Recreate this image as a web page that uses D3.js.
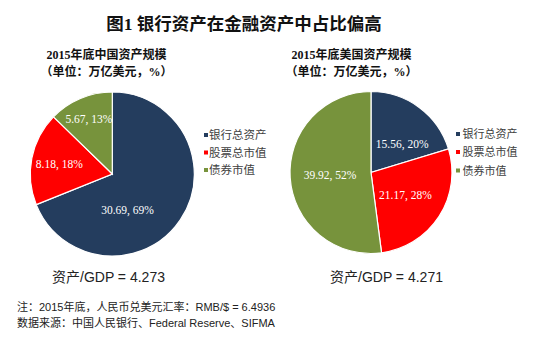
<!DOCTYPE html>
<html><head><meta charset="utf-8">
<script src="https://cdn.jsdelivr.net/npm/d3@7"></script>
<style>
html,body{margin:0;padding:0;background:#fff;}
svg{display:block;}
</style></head>
<body>
<svg id="chart" width="550" height="347"></svg>
<script>
// ---- data ----
const categories = ["银行总资产", "股票总市值", "债券市值"];
const chinaValues = [30.69, 8.18, 5.67];
const chinaPercents = [69, 18, 13];
const usValues = [15.56, 21.17, 39.92];
const usPercents = [20, 28, 52];
const ratioLabels = ["资产/GDP = 4.273", "资产/GDP = 4.271"];
const titleText = "图1  银行资产在金融资产中占比偏高";
const subtitles = [["2015年底中国资产规模", "（单位：万亿美元，%）"], ["2015年底美国资产规模", "（单位：万亿美元，%）"]];
const notes = ["注：2015年底，人民币兑美元汇率：RMB/$ = 6.4936", "数据来源：中国人民银行、Federal Reserve、SIFMA"];

// ---- styles/layout ----
const colors = ["#243d5e", "#ff0000", "#77933c"];
const color = d3.scaleOrdinal().domain(categories).range(colors);
const svg = d3.select("#chart");
const serif = "'Liberation Serif','Times New Roman','Noto Sans CJK SC',serif";
const sans = "'Liberation Sans',Arial,'Noto Sans CJK SC',sans-serif";

svg.append("text").attr("x", 244).attr("y", 24).attr("text-anchor", "middle")
  .attr("dominant-baseline", "central")
  .style("font-family", serif).style("font-weight", "bold").style("font-size", "17.5px")
  .style("fill", "#111").text(titleText);

const pies = [
  {cx: 112.3, cy: 174, r: 82, values: chinaValues, pcts: chinaPercents,
   sub: subtitles[0], subX: 46.5, legX: 204, legTextX: 209, legY: [135, 152.5, 170], legFont: 11.5,
   ratio: ratioLabels[0], ratioX: 52,
   lab: [{a: 157, d: 39}, {d: 54}, {d: 60}]},
  {cx: 371, cy: 172.5, r: 81, values: usValues, pcts: usPercents,
   sub: subtitles[1], subX: 291.5, legX: 456, legTextX: 462.5, legY: [134, 152, 170.5], legFont: 11,
   ratio: ratioLabels[1], ratioX: 330,
   lab: [{a: 48, d: 42}, {d: 41}, {d: 41}]}
];

const pieGen = d3.pie().sort(null).value(d => d.v);

pies.forEach(p => {
  // subtitles
  svg.append("text").attr("x", p.subX).attr("y", 55).attr("dominant-baseline", "central")
    .style("font-family", serif).style("font-weight", "bold").style("font-size", "12px")
    .style("fill", "#111").text(p.sub[0]);
  svg.append("text").attr("x", p.subX - 6).attr("y", 72).attr("dominant-baseline", "central")
    .style("font-family", serif).style("font-weight", "bold").style("font-size", "12px")
    .style("fill", "#111").text(p.sub[1]);

  const data = categories.map((c, i) => ({c, v: p.values[i], pct: p.pcts[i], i}));
  const arcs = pieGen(data);
  const arc = d3.arc().innerRadius(0).outerRadius(p.r);
  const g = svg.append("g").attr("transform", `translate(${p.cx},${p.cy})`);
  g.selectAll("path").data(arcs).join("path")
    .attr("d", arc).attr("fill", d => color(d.data.c))
    .attr("stroke", "#fff").attr("stroke-width", 1.2);

  g.selectAll("text.lbl").data(arcs).join("text").attr("class", "lbl")
    .attr("transform", d => {
      const L = p.lab[d.index];
      const ang = L.a !== undefined ? L.a * Math.PI / 180 : (d.startAngle + d.endAngle) / 2;
      return `translate(${Math.sin(ang) * L.d},${-Math.cos(ang) * L.d})`;
    })
    .attr("text-anchor", "middle").attr("dominant-baseline", "central")
    .style("font-family", serif).style("font-size", "11.5px").style("fill", "#fff")
    .text(d => `${d3.format(".2f")(d.data.v)}, ${d.data.pct}%`);

  // legend
  const lg = svg.append("g");
  categories.forEach((c, i) => {
    lg.append("rect").attr("x", p.legX).attr("y", p.legY[i] - 2).attr("width", 4).attr("height", 4)
      .attr("fill", color(c));
    lg.append("text").attr("x", p.legTextX).attr("y", p.legY[i]).attr("dominant-baseline", "central")
      .style("font-family", sans).style("font-size", p.legFont + "px").style("fill", "#404040").text(c);
  });

  // ratio
  svg.append("text").attr("x", p.ratioX).attr("y", 277).attr("dominant-baseline", "central")
    .style("font-family", sans).style("font-size", "14px").style("fill", "#222").text(p.ratio);
});

notes.forEach((n, i) => {
  svg.append("text").attr("x", 17).attr("y", 307 + i * 16).attr("dominant-baseline", "central")
    .style("font-family", sans).style("font-size", "11px").style("fill", "#222").text(n);
});
</script>
</body></html>
